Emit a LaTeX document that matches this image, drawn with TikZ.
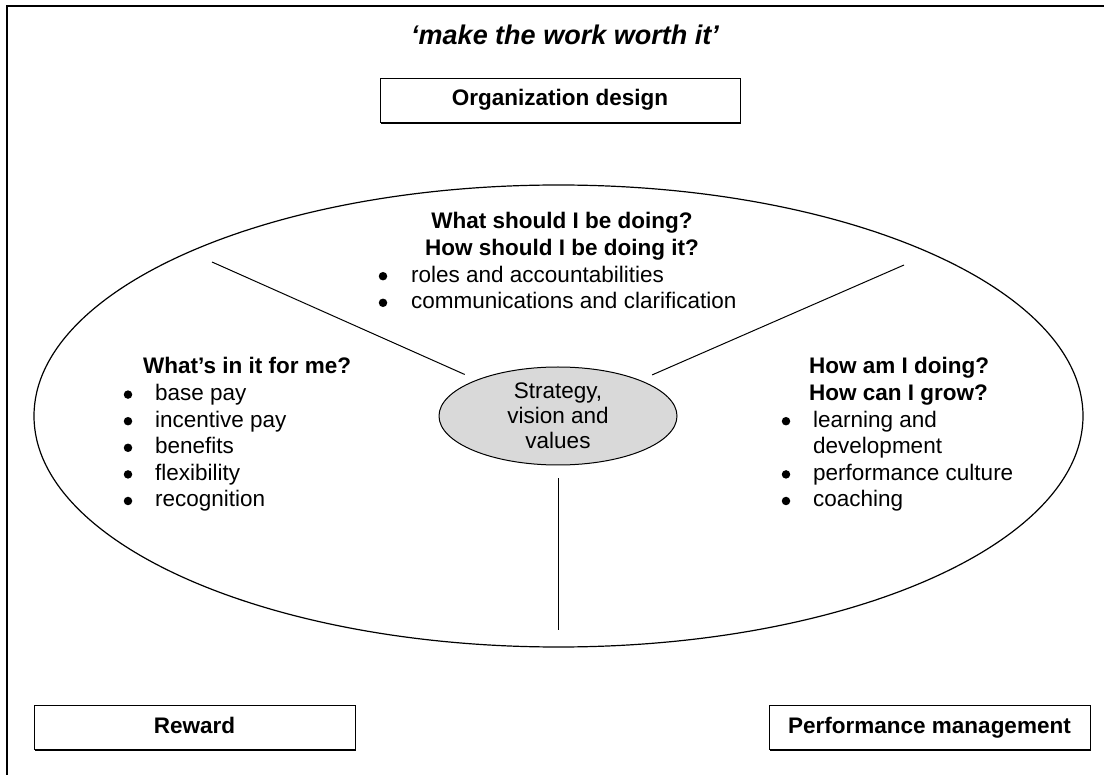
\documentclass[tikz,border=0pt]{standalone}
\usepackage{fontspec}
\setmainfont{Liberation Sans}
\usetikzlibrary{shapes.geometric,shadows}

\begin{document}
\begin{tikzpicture}[x=1pt,y=-1pt,
  every node/.style={inner sep=0pt,font=\fontsize{22.5}{26.6}\selectfont},
  box/.style={draw,fill=white,line width=1pt,minimum height=44pt,text height=16pt,text depth=5pt,
    drop shadow={shadow xshift=1.4pt,shadow yshift=-1.4pt,fill=black,opacity=1},
    font=\fontsize{22.5}{26.6}\selectfont\bfseries},
  head/.style={font=\fontsize{22.5}{26.6}\selectfont\bfseries},
  item/.style={anchor=base west},
  dot/.style={circle,fill,minimum size=8.5pt}]
  \useasboundingbox (0,0) rectangle (1104,775);
  % Frame, open at right and bottom
  \draw[line width=1.2pt] (7,775) -- (7,6) -- (1104,6);
  % Title
  \node[font=\fontsize{27}{30}\selectfont\bfseries\itshape] (title) at (565,35) {‘make the work worth it’};
  % Boxes
  \node[box,minimum width=360pt] (orgdesign) at (560,100.5) {Organization design};
  \node[box,minimum width=321pt] (reward) at (194.5,727.5) {Reward};
  \node[box,minimum width=321pt] (perfmgmt) at (929.5,727.5) {Performance management};
  % Big ellipse
  \draw[line width=1.2pt] (558.5,416) ellipse [x radius=524.5pt, y radius=231pt];
  % Core
  \node[ellipse,draw,line width=1pt,fill=gray!30,minimum width=238pt,minimum height=98pt,
    align=center,font=\fontsize{22.5}{25}\selectfont] (core) at (558,416) {Strategy,\\vision and\\values};
  % Dividers
  \coordinate (ul) at (212,262);
  \coordinate (ur) at (904,265);
  \coordinate (bc) at (558,630);
  \draw[line width=1pt,shorten >=13pt] (ul) -- (core);
  \draw[line width=1pt,shorten >=13pt] (ur) -- (core);
  \draw[line width=1pt,shorten <=13pt] (core) -- (bc);
  % Top: organization design
  \node[head,anchor=base] (qt1) at (562,229) {What should I be doing?};
  \node[head,anchor=base] (qt2) at (562,255.6) {How should I be doing it?};
  \foreach \txt [count=\i] in {roles and accountabilities,communications and clarification} {
    \node[dot] (bt\i) at (383,249.6+26.6*\i) {};
    \node[item] (it\i) at (411,255.6+26.6*\i) {\txt};
  }
  % Left: reward
  \node[head,anchor=base west] (ql) at (143,374) {What’s in it for me?};
  \foreach \txt [count=\i] in {base pay,incentive pay,benefits,flexibility,recognition} {
    \node[dot] (bl\i) at (128,368+26.6*\i) {};
    \node[item] (il\i) at (155,374+26.6*\i) {\txt};
  }
  % Right: performance management
  \node[head,anchor=base west] (qr1) at (809,374) {How am I doing?};
  \node[head,anchor=base west] (qr2) at (809,400.6) {How can I grow?};
  \foreach \txt [count=\i] in {learning and,development,performance culture,coaching} {
    \node[item] (ir\i) at (813,400.6+26.6*\i) {\txt};
  }
  \foreach \i in {1,3,4} {
    \node[dot] (br\i) at (786,394.6+26.6*\i) {};
  }
\end{tikzpicture}
\end{document}
